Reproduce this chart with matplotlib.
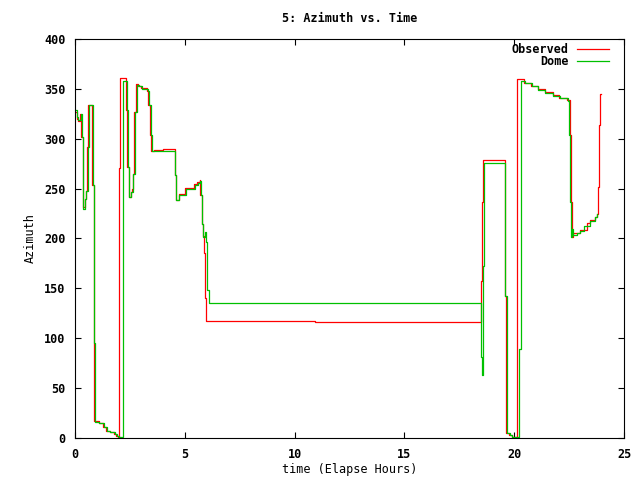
import matplotlib
matplotlib.use("Agg")
import matplotlib.pyplot as plt

# Observed azimuth (red), step points: (elapsed hours, azimuth)
obs_time = [0.00, 0.07, 0.14, 0.25, 0.28, 0.35, 0.38, 0.44, 0.50, 0.56, 0.60, 0.78, 0.85, 0.88,
            1.08, 1.28, 1.43, 1.58, 1.78, 1.88, 1.98, 2.00, 2.05, 2.30, 2.38, 2.45, 2.53, 2.60,
            2.63, 2.68, 2.78, 2.88, 3.00, 3.28, 3.34, 3.40, 3.48, 3.62, 4.00, 4.55, 4.59, 4.73,
            5.03, 5.43, 5.56, 5.68, 5.71, 5.78, 5.84, 5.88, 5.92, 5.97, 10.95, 18.48, 18.52,
            18.58, 19.58, 19.64, 19.78, 19.88, 20.11, 20.14, 20.45, 20.78, 21.08, 21.38, 21.75,
            22.05, 22.42, 22.55, 22.58, 22.62, 22.70, 23.00, 23.30, 23.43, 23.66, 23.75, 23.80,
            23.85, 23.92, 23.93]
obs_az = [327, 320, 318, 325, 302, 254, 232, 240, 248, 292, 334, 254, 95, 17,
          15, 11, 7, 6, 4, 2, 1, 271, 361, 329, 272, 242, 247, 250,
          265, 327, 355, 353, 351, 348, 334, 304, 288, 289, 290, 264, 239, 245,
          251, 255, 257, 259, 244, 215, 203, 185, 140, 117, 116, 157, 237,
          279, 142, 5, 3, 1, 180, 360, 356, 353, 350, 347, 344,
          341, 339, 304, 237, 202, 206, 209, 216, 219, 222, 225, 252,
          314, 345, 345]

# Dome azimuth (green)
dome_time = [0.00, 0.08, 0.15, 0.27, 0.30, 0.38, 0.45, 0.52, 0.58, 0.62, 0.80, 0.86, 0.90,
             1.10, 1.30, 1.45, 1.60, 1.80, 1.90, 2.00, 2.17, 2.20, 2.36, 2.40, 2.48, 2.55,
             2.63, 2.66, 2.72, 2.83, 2.92, 3.07, 3.32, 3.37, 3.44, 3.52, 4.56, 4.61, 4.75,
             5.05, 5.45, 5.58, 5.68, 5.72, 5.80, 5.85, 5.90, 5.95, 6.00, 6.08, 18.50, 18.55,
             18.58, 18.63, 19.60, 19.65, 19.80, 19.90, 20.24, 20.32, 20.49, 20.80, 21.10,
             21.40, 21.78, 22.09, 22.46, 22.51, 22.55, 22.60, 22.65, 22.70, 22.85, 23.00,
             23.20, 23.43, 23.66, 23.75, 23.77]
dome_az = [329, 322, 319, 325, 302, 230, 240, 248, 292, 334, 254, 95, 16,
           15, 11, 7, 6, 4, 2, 1, 90, 358, 329, 272, 242, 247,
           249, 265, 327, 354, 353, 350, 348, 334, 304, 288, 264, 239, 244,
           250, 254, 256, 258, 244, 215, 202, 207, 196, 148, 135, 81, 63,
           172, 276, 142, 5, 3, 1, 89, 358, 356, 353, 349,
           346, 343, 341, 338, 304, 237, 202, 210, 204, 206, 208,
           213, 218, 222, 225, 225]

plt.rcParams["font.family"] = "DejaVu Sans Mono"
plt.rcParams["font.weight"] = "bold"
plt.rcParams["font.size"] = 8.5

fig = plt.figure(figsize=(6.4, 4.8), dpi=100)
ax = fig.add_axes([75 / 640, 1 - 438 / 480, 549 / 640, 399 / 480])

ax.step(obs_time, obs_az, where="post", color="#ff0000", lw=0.9, label="Observed")
ax.step(dome_time, dome_az, where="post", color="#00c000", lw=0.9, label="Dome")

ax.set_xlim(0, 25)
ax.set_ylim(0, 400)
ax.set_xticks(range(0, 26, 5))
ax.set_yticks(range(0, 401, 50))
ax.tick_params(direction="in", top=True, right=True, length=4, width=0.8, pad=7)
for s in ax.spines.values():
    s.set_linewidth(0.8)

ax.set_xlabel("time (Elapse Hours)", labelpad=1.5)
ax.set_ylabel("Azimuth", labelpad=5)
fig.text((75 + 624) / 2 / 640, 1 - 18 / 480, "5: Azimuth vs. Time", ha="center", va="center")

ax.legend(loc="upper right", bbox_to_anchor=(0.973, 0.99), markerfirst=False, frameon=False,
          handlelength=2.7, handletextpad=0.76, labelspacing=-0.05, borderaxespad=0,
          borderpad=0)

fig.savefig("out.png", dpi=100)
